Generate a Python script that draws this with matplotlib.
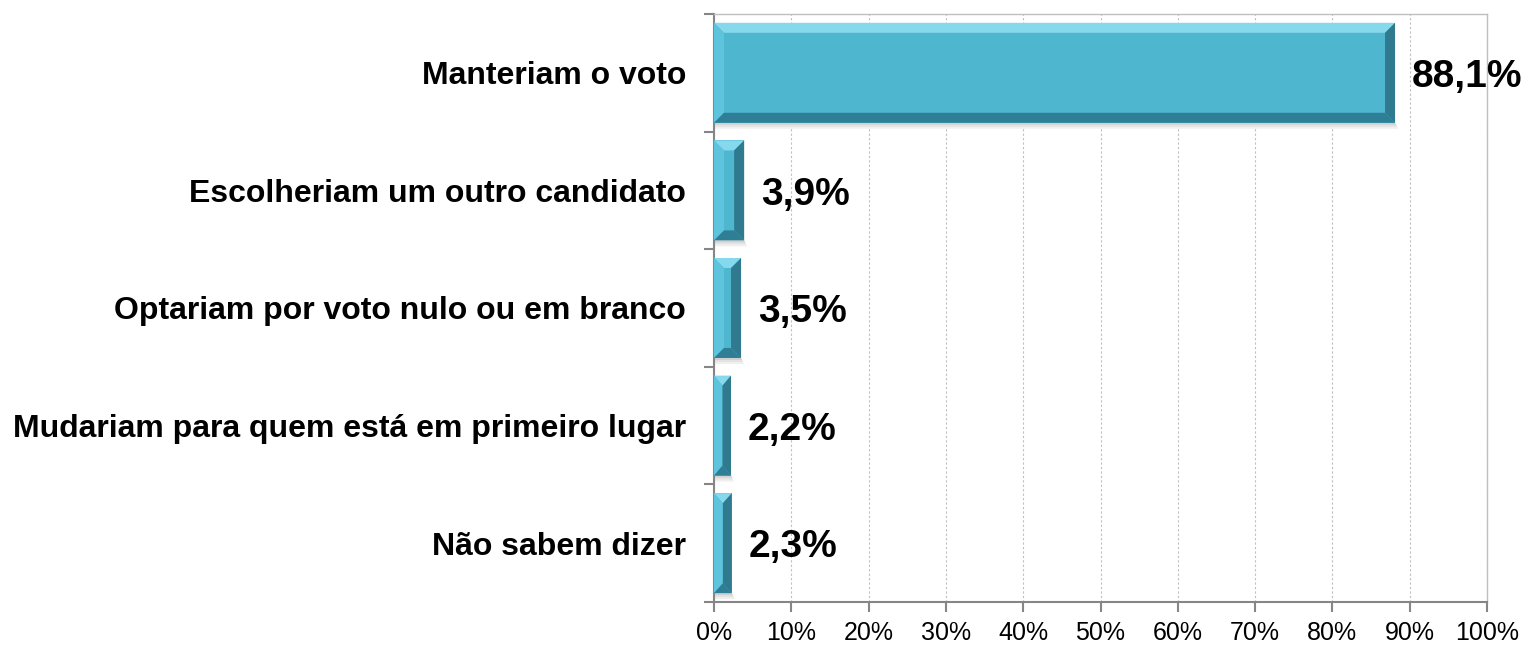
import matplotlib
matplotlib.use("Agg")
import matplotlib.pyplot as plt
from matplotlib.patches import Polygon
import numpy as np

categories = ["Manteriam o voto", "Escolheriam um outro candidato",
              "Optariam por voto nulo ou em branco",
              "Mudariam para quem está em primeiro lugar", "Não sabem dizer"]
values = [88.1, 3.9, 3.5, 2.2, 2.3]
value_labels = ["88,1%", "3,9%", "3,5%", "2,2%", "2,3%"]
xticks = [0, 10, 20, 30, 40, 50, 60, 70, 80, 90, 100]
xtick_labels = [f"{t}%" for t in xticks]

plt.rcParams['font.family'] = ['Liberation Sans', 'DejaVu Sans']

fig = plt.figure(figsize=(15.25, 6.45), dpi=100)
ax = fig.add_axes([0.4682, 0.0667, 0.9751 - 0.4682, 0.9783 - 0.0667])

n = len(categories)
ypos = np.arange(n)
height = 0.85
face = "#4FB6D0"

ax.set_xlim(0, 100)
ax.set_ylim(n - 0.5, -0.5)

# pixel -> data scale for bevel
fig.canvas.draw()
bbox = ax.get_window_extent()
px_x = 100 / bbox.width
px_y = n / bbox.height
bev = 10

for y, v in zip(ypos, values):
    y0, y1 = y - height / 2, y + height / 2
    # soft shadow
    for k, c in [(6, "#f0f0f0"), (4, "#e3e3e3"), (2, "#d0d0d0")]:
        ax.add_patch(Polygon([(0, y1), (v, y1), (v + k * 0.5 * px_x, y1 + k * px_y), (0, y1 + k * px_y)],
                             closed=True, facecolor=c, edgecolor="none", zorder=2))
    ax.barh(y, v, height=height, color=face, edgecolor="none", zorder=3)
    bx = min(bev * px_x, v / 2)
    by = bev * px_y
    top = [(0, y0), (v, y0), (v - bx, y0 + by), (bx, y0 + by)]
    bottom = [(0, y1), (v, y1), (v - bx, y1 - by), (bx, y1 - by)]
    left = [(0, y0), (bx, y0 + by), (bx, y1 - by), (0, y1)]
    right = [(v, y0), (v - bx, y0 + by), (v - bx, y1 - by), (v, y1)]
    for pts, col in [(top, "#86D8EC"), (left, "#5EC3DC"), (bottom, "#2E7F96"), (right, "#2F7A8E")]:
        ax.add_patch(Polygon(pts, closed=True, facecolor=col, edgecolor="none", zorder=4))

for y, v, lab in zip(ypos, values, value_labels):
    ax.annotate(lab, xy=(v, y), xytext=(12, -3), textcoords="offset points",
                ha="left", va="center", fontsize=28, fontweight="bold", color="black")

ax.set_xticks(xticks)
ax.set_xticklabels(xtick_labels, fontsize=18)
ax.set_yticks(ypos)
ax.set_yticklabels(categories, fontsize=23, fontweight="bold")
ax.tick_params(axis="y", which="major", length=0, pad=20)
ax.set_yticks(np.arange(-0.5, n, 1), minor=True)
ax.tick_params(axis="y", which="minor", length=7, color="#868686", width=1.5)
ax.tick_params(axis="x", length=7, color="#868686", width=1.5, pad=7)

ax.grid(axis="x", color="#bfbfbf", linestyle=(0, (2, 2)), linewidth=0.8, zorder=0)
ax.set_axisbelow(True)
for s in ["top", "right"]:
    ax.spines[s].set_color("#bfbfbf")
    ax.spines[s].set_linewidth(1)
for s in ["left", "bottom"]:
    ax.spines[s].set_color("#868686")
    ax.spines[s].set_linewidth(1.5)

fig.savefig("out.png", dpi=100)
